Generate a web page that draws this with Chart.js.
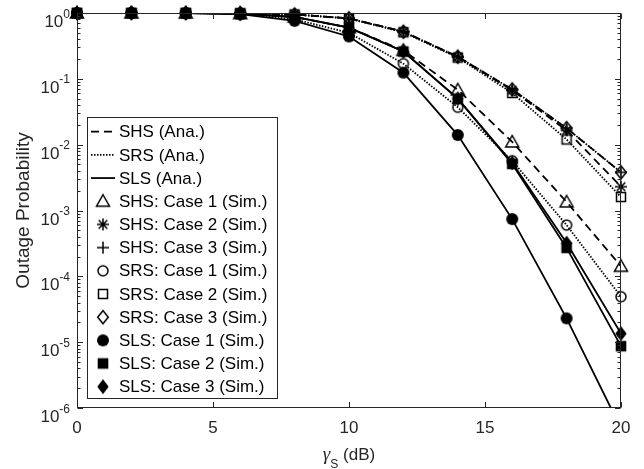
<!DOCTYPE html>
<html>
<head>
<meta charset="utf-8">
<title>Outage probability vs SNR</title>
<script src="https://cdn.jsdelivr.net/npm/chart.js@4/dist/chart.umd.min.js"></script>
<style>
  html, body { margin: 0; padding: 0; background: #fff; }
  canvas { display: block; }
</style>
</head>
<body>
<canvas id="chart" width="644" height="469"></canvas>
<script>
// SNR grid (dB) and axis ticks
var SNR_DB = [0, 2, 4, 6, 8, 10, 12, 14, 16, 18, 20];
var X_TICKS = [0, 5, 10, 15, 20];
var Y_EXPONENTS = [0, -1, -2, -3, -4, -5, -6];

// Analytical outage probability, one array per scheme / case
var SHS_CASE1 = [1, 1, 0.998, 0.98, 0.87, 0.6, 0.27, 0.068, 0.011, 0.00135, 0.000142];
var SHS_CASE2 = [1, 1, 0.999, 0.99, 0.95, 0.83, 0.52, 0.215, 0.067, 0.0165, 0.0023];
var SHS_CASE3 = [1, 1, 0.999, 0.99, 0.95, 0.83, 0.52, 0.217, 0.069, 0.0178, 0.0038];
var SRS_CASE1 = [1, 1, 0.997, 0.97, 0.8, 0.5, 0.17, 0.037, 0.0057, 0.0006, 0.000049];
var SRS_CASE2 = [1, 1, 0.999, 0.99, 0.95, 0.82, 0.51, 0.21, 0.061, 0.012, 0.0016];
var SRS_CASE3 = [1, 1, 0.999, 0.99, 0.95, 0.83, 0.52, 0.217, 0.069, 0.0178, 0.0038];
var SLS_CASE1 = [1, 1, 0.997, 0.96, 0.76, 0.44, 0.124, 0.014, 0.00074, 0.000023, 0.00000049];
var SLS_CASE2 = [1, 1, 0.998, 0.98, 0.87, 0.6, 0.26, 0.05, 0.0051, 0.00027, 0.0000087];
var SLS_CASE3 = [1, 1, 0.998, 0.98, 0.87, 0.6, 0.26, 0.05, 0.0053, 0.00032, 0.0000135];

// Monte Carlo points (SLS case 1 has no point at 20 dB)
var SLS_CASE1_SIM = [1, 1, 0.997, 0.96, 0.76, 0.44, 0.124, 0.014, 0.00074, 0.000023, null];

var ANA_LABELS = ['SHS (Ana.)', 'SRS (Ana.)', 'SLS (Ana.)'];
var DASHES = [[8, 5], [1.5, 1.5], []];

var AXIS_COLOR = '#262626';
var FONT = '"Liberation Sans", Arial, sans-serif';

var curves = [
  { scheme: 0, ana: SHS_CASE1, sim: SHS_CASE1, marker: 'triangle', label: 'SHS: Case 1 (Sim.)' },
  { scheme: 0, ana: SHS_CASE2, sim: SHS_CASE2, marker: 'asterisk', label: 'SHS: Case 2 (Sim.)' },
  { scheme: 0, ana: SHS_CASE3, sim: SHS_CASE3, marker: 'plus', label: 'SHS: Case 3 (Sim.)' },
  { scheme: 1, ana: SRS_CASE1, sim: SRS_CASE1, marker: 'circle', label: 'SRS: Case 1 (Sim.)' },
  { scheme: 1, ana: SRS_CASE2, sim: SRS_CASE2, marker: 'square', label: 'SRS: Case 2 (Sim.)' },
  { scheme: 1, ana: SRS_CASE3, sim: SRS_CASE3, marker: 'diamond', label: 'SRS: Case 3 (Sim.)' },
  { scheme: 2, ana: SLS_CASE1, sim: SLS_CASE1_SIM, marker: 'circleFilled', label: 'SLS: Case 1 (Sim.)' },
  { scheme: 2, ana: SLS_CASE2, sim: SLS_CASE2, marker: 'squareFilled', label: 'SLS: Case 2 (Sim.)' },
  { scheme: 2, ana: SLS_CASE3, sim: SLS_CASE3, marker: 'diamondFilled', label: 'SLS: Case 3 (Sim.)' }
];

// MATLAB-like marker glyphs, drawn once on small canvases and reused as pointStyle
function makeMarker(kind) {
  var c = document.createElement('canvas');
  c.width = 20;
  c.height = 20;
  var g = c.getContext('2d');
  var m = 10;
  g.strokeStyle = '#000';
  g.fillStyle = '#000';
  g.lineWidth = 1.5;
  g.beginPath();
  switch (kind) {
    case 'triangle':
      g.moveTo(m, m - 6.5); g.lineTo(m + 6.5, m + 5); g.lineTo(m - 6.5, m + 5); g.closePath();
      g.stroke();
      break;
    case 'asterisk':
      g.moveTo(m, m - 6); g.lineTo(m, m + 6);
      g.moveTo(m - 6, m); g.lineTo(m + 6, m);
      g.moveTo(m - 4.3, m - 4.3); g.lineTo(m + 4.3, m + 4.3);
      g.moveTo(m - 4.3, m + 4.3); g.lineTo(m + 4.3, m - 4.3);
      g.stroke();
      break;
    case 'plus':
      g.moveTo(m, m - 6); g.lineTo(m, m + 6);
      g.moveTo(m - 6, m); g.lineTo(m + 6, m);
      g.stroke();
      break;
    case 'circle':
      g.arc(m, m, 5, 0, Math.PI * 2);
      g.stroke();
      break;
    case 'square':
      g.rect(m - 4.5, m - 4.5, 9, 9);
      g.stroke();
      break;
    case 'diamond':
      g.moveTo(m, m - 6.5); g.lineTo(m + 5.3, m); g.lineTo(m, m + 6.5); g.lineTo(m - 5.3, m); g.closePath();
      g.stroke();
      break;
    case 'circleFilled':
      g.arc(m, m, 6, 0, Math.PI * 2);
      g.fill();
      break;
    case 'squareFilled':
      g.rect(m - 5.3, m - 5.3, 10.6, 10.6);
      g.fill();
      break;
    case 'diamondFilled':
      g.moveTo(m, m - 7.5); g.lineTo(m + 5.7, m); g.lineTo(m, m + 7.5); g.lineTo(m - 5.7, m); g.closePath();
      g.fill();
      break;
  }
  return c;
}

function toPoints(values) {
  return SNR_DB.map(function (x, i) { return { x: x, y: values[i] }; });
}

curves.forEach(function (c) { c.image = makeMarker(c.marker); });

// markers first so they sit on top of the curves
var datasets = [];
curves.forEach(function (c) {
  datasets.push({
    type: 'scatter',
    label: c.label,
    data: toPoints(c.sim),
    showLine: false,
    pointStyle: c.image,
    pointRadius: 6,
    clip: false
  });
});
curves.forEach(function (c) {
  datasets.push({
    type: 'line',
    label: ANA_LABELS[c.scheme],
    data: toPoints(c.ana),
    borderColor: '#000',
    borderWidth: 1.8,
    borderDash: DASHES[c.scheme],
    pointRadius: 0,
    fill: false,
    tension: 0
  });
});

function drawLine(ctx, x1, y1, x2, y2) {
  ctx.beginPath();
  ctx.moveTo(x1, y1);
  ctx.lineTo(x2, y2);
  ctx.stroke();
}

// box, inward ticks, exponent labels, axis titles and the legend
var matlabAxes = {
  id: 'matlabAxes',
  afterDraw: function (chart) {
    var ctx = chart.ctx;
    var a = chart.chartArea;
    var xs = chart.scales.x;
    var ys = chart.scales.y;
    var left = Math.round(a.left) + 0.5, right = Math.round(a.right) - 0.5;
    var top = Math.round(a.top) + 0.5, bottom = Math.round(a.bottom) - 0.5;

    ctx.save();
    ctx.strokeStyle = AXIS_COLOR;
    ctx.lineWidth = 1;
    ctx.strokeRect(left, top, right - left, bottom - top);

    X_TICKS.forEach(function (v) {
      var px = Math.round(xs.getPixelForValue(v)) + 0.5;
      drawLine(ctx, px, bottom, px, bottom - 5.5);
      drawLine(ctx, px, top, px, top + 5.5);
    });

    Y_EXPONENTS.forEach(function (e) {
      var py = Math.round(ys.getPixelForValue(Math.pow(10, e))) + 0.5;
      drawLine(ctx, left, py, left + 5.5, py);
      drawLine(ctx, right, py, right - 5.5, py);
      if (e > -6) {
        for (var k = 2; k <= 9; k++) {
          var my = Math.round(ys.getPixelForValue(k * Math.pow(10, e - 1))) + 0.5;
          drawLine(ctx, left, my, left + 3, my);
          drawLine(ctx, right, my, right - 3, my);
        }
      }
    });

    // y tick labels as 10 with a raised exponent
    ctx.fillStyle = AXIS_COLOR;
    ctx.textBaseline = 'alphabetic';
    ctx.textAlign = 'left';
    Y_EXPONENTS.forEach(function (e) {
      var py = ys.getPixelForValue(Math.pow(10, e));
      var exp = String(e);
      ctx.font = '12px ' + FONT;
      var ew = ctx.measureText(exp).width;
      ctx.font = '17px ' + FONT;
      var bw = ctx.measureText('10').width;
      var x0 = 70 - ew - bw;
      ctx.fillText('10', x0, py + 14);
      ctx.font = '12px ' + FONT;
      ctx.fillText(exp, x0 + bw, py + 4.5);
    });

    // y axis title
    ctx.save();
    ctx.translate(29, (a.top + a.bottom) / 2);
    ctx.rotate(-Math.PI / 2);
    ctx.textAlign = 'center';
    ctx.font = '19px ' + FONT;
    ctx.fillText('Outage Probability', 0, 0);
    ctx.restore();

    // x axis title: gamma with subscript S
    var gFont = 'italic 19px "Liberation Serif", serif';
    var sFont = '12px ' + FONT;
    var tFont = '17px ' + FONT;
    ctx.font = gFont;
    var gw = ctx.measureText('\u03b3').width;
    ctx.font = sFont;
    var sw = ctx.measureText('S').width;
    ctx.font = tFont;
    var tw = ctx.measureText(' (dB)').width;
    var tx = (a.left + a.right) / 2 - (gw + sw + tw) / 2;
    ctx.font = gFont;
    ctx.fillText('\u03b3', tx, 460);
    ctx.font = sFont;
    ctx.fillText('S', tx + gw, 468);
    ctx.font = tFont;
    ctx.fillText(' (dB)', tx + gw + sw, 460);

    // legend
    var lx = 87.5, ly = 117.5, lw = 190, lh = 281;
    ctx.fillStyle = '#fff';
    ctx.fillRect(lx, ly, lw, lh);
    ctx.strokeStyle = AXIS_COLOR;
    ctx.strokeRect(lx, ly, lw, lh);

    var rowY = 131.7, rowStep = 23.18;
    ctx.font = '17px ' + FONT;
    ctx.textBaseline = 'middle';
    ctx.fillStyle = '#000';
    ANA_LABELS.forEach(function (label, i) {
      var y = rowY + rowStep * i;
      ctx.save();
      ctx.strokeStyle = '#000';
      ctx.lineWidth = 1.8;
      ctx.setLineDash(DASHES[i]);
      drawLine(ctx, 91, y, 115, y);
      ctx.restore();
      ctx.fillText(label, 119, y + 1);
    });
    curves.forEach(function (c, i) {
      var y = rowY + rowStep * (i + 3);
      ctx.drawImage(c.image, 103 - c.image.width / 2, y - c.image.height / 2);
      ctx.fillText(c.label, 119, y + 1);
    });
    ctx.restore();
  }
};

Chart.defaults.font.family = FONT;

var chart = new Chart(document.getElementById('chart'), {
  type: 'line',
  data: { datasets: datasets },
  options: {
    responsive: false,
    devicePixelRatio: 1,
    animation: false,
    layout: { padding: { left: 0, right: 23, top: 13, bottom: 0 } },
    plugins: {
      legend: { display: false },
      tooltip: { enabled: false }
    },
    scales: {
      x: {
        type: 'linear',
        min: 0,
        max: 20,
        afterFit: function (scale) { scale.height = 61; },
        afterBuildTicks: function (scale) {
          scale.ticks = X_TICKS.map(function (v) { return { value: v }; });
        },
        ticks: { color: AXIS_COLOR, font: { size: 17 }, padding: 10, maxRotation: 0 },
        grid: { display: false, drawTicks: false },
        border: { display: false }
      },
      y: {
        type: 'logarithmic',
        min: 1e-6,
        max: 1,
        afterFit: function (scale) { scale.width = 77; },
        ticks: { display: false },
        grid: { display: false, drawTicks: false },
        border: { display: false }
      }
    }
  },
  plugins: [matlabAxes]
});
</script>
</body>
</html>
